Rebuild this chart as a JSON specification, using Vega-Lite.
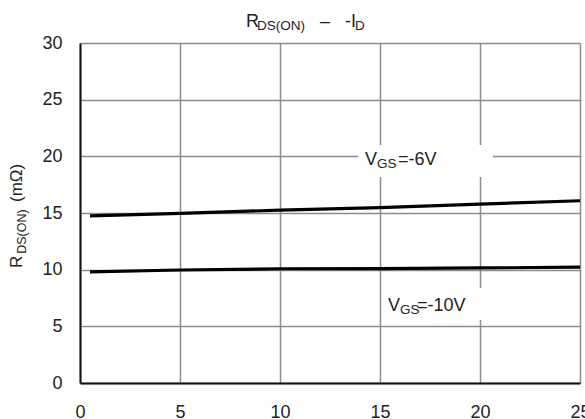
{
  "$schema": "https://vega.github.io/schema/vega-lite/v6.json",
  "width": 500,
  "height": 340,
  "autosize": {"type": "none"},
  "padding": {"left": 80, "top": 43, "right": 5, "bottom": 36},
  "background": "white",
  "config": {
    "font": "Liberation Sans",
    "view": {"stroke": null},
    "axis": {
      "grid": true,
      "gridColor": "#8c8c8c",
      "gridWidth": 1.5,
      "ticks": false,
      "tickSize": 0,
      "domainColor": "#111111",
      "domainWidth": 2,
      "labelFont": "Liberation Sans",
      "labelFontSize": 18,
      "labelColor": "#222222",
      "labelFlush": false,
      "labelOverlap": false,
      "title": null
    }
  },
  "layer": [
    {
      "data": {"values": [
        {"x": 13.9, "x2": 20.65, "y": 18.18, "y2": 21.0},
        {"x": 15.1, "x2": 20.5, "y": 5.56, "y2": 8.38}
      ]},
      "mark": {"type": "rect", "fill": "white", "stroke": null},
      "encoding": {
        "x": {"field": "x", "type": "quantitative", "scale": {"domain": [0, 25], "padding": 0, "nice": false, "zero": false},
              "axis": {"values": [0, 5, 10, 15, 20, 25], "labelPadding": 20, "labelBaseline": "top"}},
        "x2": {"field": "x2"},
        "y": {"field": "y", "type": "quantitative", "scale": {"domain": [0, 30], "padding": 0, "nice": false},
              "axis": {"values": [0, 5, 10, 15, 20, 25, 30], "labelPadding": 18}},
        "y2": {"field": "y2"}
      }
    },
    {
      "data": {"values": [
        {"id": 0.5, "r": 14.75, "s": "VGS=-6V"},
        {"id": 5, "r": 14.97, "s": "VGS=-6V"},
        {"id": 10, "r": 15.25, "s": "VGS=-6V"},
        {"id": 15, "r": 15.47, "s": "VGS=-6V"},
        {"id": 20, "r": 15.78, "s": "VGS=-6V"},
        {"id": 25, "r": 16.08, "s": "VGS=-6V"},
        {"id": 0.5, "r": 9.8, "s": "VGS=-10V"},
        {"id": 5, "r": 9.97, "s": "VGS=-10V"},
        {"id": 10, "r": 10.08, "s": "VGS=-10V"},
        {"id": 15, "r": 10.1, "s": "VGS=-10V"},
        {"id": 20, "r": 10.15, "s": "VGS=-10V"},
        {"id": 25, "r": 10.22, "s": "VGS=-10V"}
      ]},
      "mark": {"type": "line", "color": "#000000", "strokeWidth": 3.2},
      "encoding": {
        "x": {"field": "id", "type": "quantitative"},
        "y": {"field": "r", "type": "quantitative"},
        "detail": {"field": "s"}
      }
    },
    {
      "data": {"values": [
        {"x": 14.25, "y": 19.24, "t": "V"},
        {"x": 15.4, "y": 6.38, "t": "V"},
        {"x": 15.9, "y": 19.24, "t": "=-6V"},
        {"x": 16.85, "y": 6.38, "t": "=-10V"},
        {"x": 8.3, "y": 31.42, "t": "R"},
        {"x": 12.0, "y": 31.42, "t": "–"},
        {"x": 13.25, "y": 31.42, "t": "-I"}
      ]},
      "mark": {"type": "text", "align": "left", "baseline": "alphabetic", "fontSize": 18, "color": "#222222", "font": "Liberation Sans"},
      "encoding": {
        "x": {"field": "x", "type": "quantitative"},
        "y": {"field": "y", "type": "quantitative"},
        "text": {"field": "t"}
      }
    },
    {
      "data": {"values": [
        {"x": 14.85, "y": 19.24, "t": "GS"},
        {"x": 16.0, "y": 6.38, "t": "GS"},
        {"x": 8.85, "y": 31.42, "t": "DS(ON)"},
        {"x": 13.75, "y": 31.42, "t": "D"}
      ]},
      "mark": {"type": "text", "align": "left", "baseline": "alphabetic", "fontSize": 13.5, "dy": 3, "color": "#222222", "font": "Liberation Sans"},
      "encoding": {
        "x": {"field": "x", "type": "quantitative"},
        "y": {"field": "y", "type": "quantitative"},
        "text": {"field": "t"}
      }
    },
    {
      "data": {"values": [
        {"x": -2.9, "y": 10.15, "t": "R"},
        {"x": -2.9, "y": 15.97, "t": "(mΩ)"}
      ]},
      "mark": {"type": "text", "align": "left", "baseline": "alphabetic", "angle": 270, "fontSize": 17, "color": "#222222", "font": "Liberation Sans"},
      "encoding": {
        "x": {"field": "x", "type": "quantitative"},
        "y": {"field": "y", "type": "quantitative"},
        "text": {"field": "t"}
      }
    },
    {
      "data": {"values": [
        {"x": -2.9, "y": 11.4, "t": "DS(ON)"}
      ]},
      "mark": {"type": "text", "align": "left", "baseline": "alphabetic", "angle": 270, "fontSize": 12.5, "dy": 4, "color": "#222222", "font": "Liberation Sans"},
      "encoding": {
        "x": {"field": "x", "type": "quantitative"},
        "y": {"field": "y", "type": "quantitative"},
        "text": {"field": "t"}
      }
    }
  ]
}
